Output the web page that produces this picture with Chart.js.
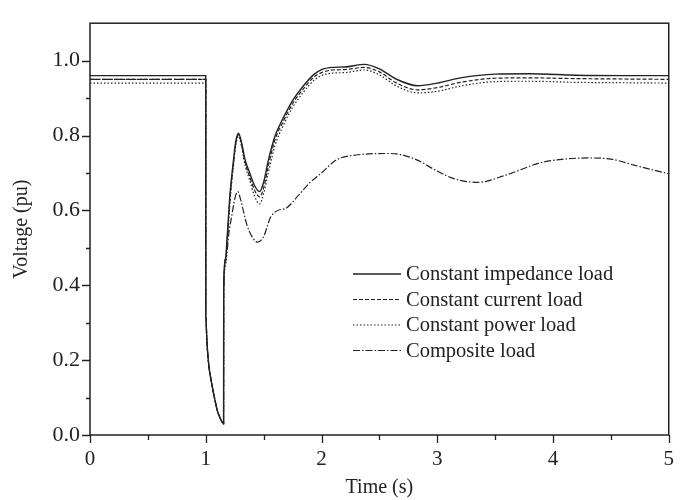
<!DOCTYPE html>
<html>
<head>
<meta charset="utf-8">
<script src="https://cdn.jsdelivr.net/npm/chart.js@4/dist/chart.umd.min.js"></script>
<style>
  body { margin: 0; background: #fff; }
</style>
</head>
<body>
<canvas id="c" width="686" height="500"></canvas>
<script>
// time points (s) shared by the three constant load curves
const tConst = [0, 1.0, 1.0, 1.01, 1.025, 1.05, 1.075, 1.1, 1.125, 1.154, 1.155, 1.17, 1.185, 1.21, 1.24, 1.26, 1.283,
  1.31, 1.34, 1.38, 1.42, 1.465, 1.50, 1.54, 1.60, 1.67, 1.75, 1.85, 1.93, 2.0, 2.1, 2.2, 2.37, 2.5, 2.65, 2.83,
  3.0, 3.2, 3.5, 3.8, 4.2, 4.6, 5.0];
const vImpedance = [0.96, 0.96, 0.32, 0.25, 0.19, 0.14, 0.10, 0.065, 0.045, 0.03, 0.40, 0.47, 0.53, 0.645, 0.735, 0.785, 0.806,
  0.78, 0.735, 0.70, 0.667, 0.650, 0.675, 0.733, 0.80, 0.847, 0.893, 0.935, 0.962, 0.976, 0.982, 0.983, 0.990, 0.978, 0.950, 0.933,
  0.940, 0.954, 0.964, 0.965, 0.961, 0.960, 0.960];
const vCurrent = [0.95, 0.95, 0.32, 0.25, 0.19, 0.14, 0.10, 0.065, 0.045, 0.03, 0.39, 0.46, 0.52, 0.635, 0.728, 0.78, 0.802,
  0.775, 0.728, 0.69, 0.655, 0.636, 0.66, 0.718, 0.79, 0.838, 0.885, 0.927, 0.955, 0.968, 0.975, 0.976, 0.982, 0.97, 0.94, 0.922,
  0.928, 0.942, 0.953, 0.954, 0.952, 0.951, 0.950];
const vPower = [0.94, 0.94, 0.32, 0.25, 0.19, 0.14, 0.10, 0.065, 0.045, 0.03, 0.38, 0.45, 0.51, 0.625, 0.72, 0.775, 0.798,
  0.77, 0.72, 0.68, 0.64, 0.617, 0.645, 0.70, 0.775, 0.827, 0.875, 0.918, 0.946, 0.96, 0.967, 0.968, 0.975, 0.962, 0.932, 0.914,
  0.918, 0.932, 0.944, 0.945, 0.942, 0.941, 0.940];

// composite load curve
const tComposite = [0, 1.0, 1.0, 1.01, 1.025, 1.05, 1.075, 1.1, 1.125, 1.154, 1.155, 1.177, 1.2, 1.226, 1.25, 1.277, 1.30,
  1.355, 1.40, 1.447, 1.50, 1.556, 1.61, 1.70, 1.80, 1.90, 2.0, 2.13, 2.3, 2.6, 2.8, 3.0, 3.15, 3.35, 3.6, 3.9, 4.1, 4.3,
  4.5, 4.7, 4.85, 5.0];
const vComposite = [0.95, 0.95, 0.32, 0.25, 0.19, 0.14, 0.10, 0.065, 0.045, 0.03, 0.38, 0.476, 0.54, 0.588, 0.63, 0.650, 0.63,
  0.562, 0.53, 0.515, 0.53, 0.579, 0.598, 0.607, 0.64, 0.674, 0.70, 0.735, 0.748, 0.752, 0.738, 0.705, 0.684, 0.675, 0.695, 0.728,
  0.737, 0.740, 0.737, 0.721, 0.709, 0.698];

const seriesNames = ['Constant impedance load', 'Constant current load', 'Constant power load', 'Composite load'];
const xTicks = [0, 1, 2, 3, 4, 5];
const yTicks = [0, 0.2, 0.4, 0.6, 0.8, 1.0];

const ink = '#222';
const serif = 'Liberation Serif';

const pts = (t, v) => t.map((x, i) => ({ x: x, y: v[i] }));

const dashes = [[], [4, 2], [1.5, 2], [7, 2, 1.5, 2]];
const datasets = [
  pts(tConst, vImpedance), pts(tConst, vCurrent), pts(tConst, vPower), pts(tComposite, vComposite)
].map((d, i) => ({
  label: seriesNames[i],
  data: d,
  borderColor: ink,
  borderWidth: i === 0 ? 1.4 : 1.2,
  borderDash: dashes[i],
  pointRadius: 0,
  fill: false,
  cubicInterpolationMode: 'monotone'
}));

// frame, outward tick marks and in-plot legend
const decor = {
  id: 'decor',
  afterDraw(chart) {
    const { ctx, chartArea: a, scales } = chart;
    ctx.save();
    ctx.strokeStyle = ink;
    ctx.lineWidth = 1.5;
    ctx.setLineDash([]);
    ctx.strokeRect(a.left, a.top, a.right - a.left, a.bottom - a.top);

    ctx.lineWidth = 1.3;
    ctx.beginPath();
    for (let k = 0; k <= 10; k++) {
      const y = Math.round(scales.y.getPixelForValue(k / 10)) + 0.5;
      const len = k % 2 === 0 ? 8 : 4;
      ctx.moveTo(a.left - len, y); ctx.lineTo(a.left, y);
    }
    for (let k = 0; k <= 10; k++) {
      const x = Math.round(scales.x.getPixelForValue(k / 2)) + 0.5;
      const len = k % 2 === 0 ? 8 : 5;
      ctx.moveTo(x, a.bottom); ctx.lineTo(x, a.bottom + len);
    }
    ctx.stroke();

    // legend
    const lx0 = 353, lx1 = 401, ly0 = 274, dy = 25.5;
    ctx.font = '20.5px "' + serif + '"';
    ctx.fillStyle = ink;
    ctx.textBaseline = 'middle';
    chart.data.datasets.forEach((ds, i) => {
      const y = ly0 + i * dy;
      ctx.lineWidth = ds.borderWidth;
      ctx.setLineDash(ds.borderDash);
      ctx.beginPath();
      ctx.moveTo(lx0, y); ctx.lineTo(lx1, y);
      ctx.stroke();
      ctx.fillText(ds.label, 406, y + 1);
    });
    ctx.restore();
  }
};

new Chart(document.getElementById('c'), {
  type: 'line',
  data: { datasets: datasets },
  plugins: [decor],
  options: {
    responsive: false,
    animation: false,
    layout: { padding: { left: 0, top: 8, right: 15, bottom: 0 } },
    plugins: { legend: { display: false }, tooltip: { enabled: false } },
    scales: {
      x: {
        type: 'linear', min: 0, max: 5,
        afterFit: s => { s.height = 65; },
        afterBuildTicks: s => { s.ticks = xTicks.map(v => ({ value: v })); },
        grid: { display: false, drawTicks: false },
        border: { display: false },
        ticks: { padding: 12, color: ink, font: { family: serif, size: 21 }, maxRotation: 0 },
        title: { display: true, text: 'Time (s)', color: ink, font: { family: serif, size: 20 }, padding: { top: 0, bottom: 0 } }
      },
      y: {
        min: 0, max: 1.1,
        afterFit: s => { s.width = 90; },
        afterBuildTicks: s => { s.ticks = yTicks.map(v => ({ value: v })); },
        grid: { display: false, drawTicks: false },
        border: { display: false },
        ticks: { padding: 10, color: ink, font: { family: serif, size: 22 }, callback: v => v.toFixed(1) },
        title: { display: true, text: 'Voltage (pu)', color: ink, font: { family: serif, size: 20 }, padding: { top: 10, bottom: 0 } }
      }
    }
  }
});
</script>
</body>
</html>
